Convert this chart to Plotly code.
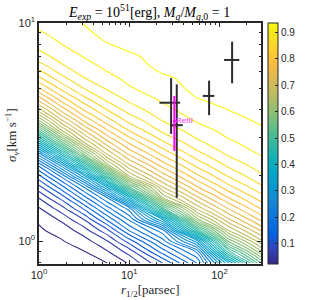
import plotly.graph_objects as go

# ---- contour field (log10 grid nodes) ----
log_r_nodes = [0.0, 0.25, 0.5, 0.75, 1.0, 1.375, 1.75, 2.1, 2.46]
log_sigma_nodes = [-0.10, -0.05, 0.00, 0.05, 0.10, 0.15, 0.20, 0.25, 0.30, 0.35, 0.40,
                   0.45, 0.50, 0.55, 0.60, 0.65, 0.70, 0.75, 0.80, 0.85, 0.90, 0.95, 1.00]
z_rows = [
    [0.0240, 0.0250, 0.0268, 0.0295, 0.0524, 0.1109, 0.1908, 0.3679, 0.5510],
    [0.0250, 0.0265, 0.0288, 0.0466, 0.0770, 0.1589, 0.2324, 0.4786, 0.6240],
    [0.0260, 0.0285, 0.0415, 0.0679, 0.1200, 0.2030, 0.3210, 0.5740, 0.6850],
    [0.0275, 0.0369, 0.0614, 0.1039, 0.1720, 0.2454, 0.4780, 0.6511, 0.7336],
    [0.0326, 0.0544, 0.0911, 0.1531, 0.2144, 0.3549, 0.6040, 0.7073, 0.7760],
    [0.0481, 0.0810, 0.1342, 0.2002, 0.2598, 0.5082, 0.6765, 0.7519, 0.8120],
    [0.0717, 0.1182, 0.1830, 0.2485, 0.3870, 0.6332, 0.7266, 0.7908, 0.8415],
    [0.1050, 0.1641, 0.2331, 0.3541, 0.5350, 0.6936, 0.7693, 0.8250, 0.8667],
    [0.1456, 0.2170, 0.3264, 0.4900, 0.6550, 0.7408, 0.8057, 0.8527, 0.8870],
    [0.1974, 0.3027, 0.4519, 0.6231, 0.7091, 0.7807, 0.8373, 0.8759, 0.9010],
    [0.2820, 0.4196, 0.5773, 0.6905, 0.7544, 0.8164, 0.8635, 0.8936, 0.9120],
    [0.3910, 0.5364, 0.6675, 0.7399, 0.7920, 0.8460, 0.8842, 0.9065, 0.9188],
    [0.5000, 0.6393, 0.7229, 0.7817, 0.8269, 0.8717, 0.8992, 0.9153, 0.9256],
    [0.6050, 0.7035, 0.7705, 0.8188, 0.8548, 0.8902, 0.9115, 0.9226, 0.9324],
    [0.6800, 0.7559, 0.8101, 0.8488, 0.8780, 0.9036, 0.9202, 0.9299, 0.9335],
    [0.7385, 0.7998, 0.8425, 0.8745, 0.8946, 0.9137, 0.9293, 0.9350, 0.9340],
    [0.7880, 0.8358, 0.8706, 0.8921, 0.9080, 0.9207, 0.9350, 0.9350, 0.9345],
    [0.8280, 0.8650, 0.8900, 0.9046, 0.9154, 0.9277, 0.9350, 0.9350, 0.9350],
    [0.8590, 0.8866, 0.9015, 0.9141, 0.9217, 0.9349, 0.9350, 0.9350, 0.9350],
    [0.8830, 0.8988, 0.9118, 0.9213, 0.9280, 0.9350, 0.9350, 0.9350, 0.9350],
    [0.8965, 0.9095, 0.9188, 0.9288, 0.9338, 0.9350, 0.9350, 0.9350, 0.9350],
    [0.9065, 0.9172, 0.9257, 0.9350, 0.9345, 0.9350, 0.9350, 0.9350, 0.9350],
    [0.9160, 0.9250, 0.9305, 0.9350, 0.9350, 0.9350, 0.9350, 0.9350, 0.9350],
]
level_start, level_end, level_step = 0.03, 0.93, 0.02
z_min, z_max = 0.024, 0.935

# ---- observed galaxies ----
obs_r = [29.1, 33.6, 76.7, 138.0]
obs_r_plus = [7.5, 5.6, 11.1, 28.0]
obs_r_minus = [7.5, 4.8, 11.4, 25.5]
obs_sigma = [4.31, 3.40, 4.63, 6.77]
obs_sigma_plus = [1.28, 1.83, 0.81, 1.44]
obs_sigma_minus = [1.21, 1.82, 0.85, 1.48]

ret_name = ["RetII"]
ret_r = [31.6]
ret_r_plus = [2.5]
ret_r_minus = [1.2]
ret_sigma = [3.55]
ret_sigma_plus = [1.08]
ret_sigma_minus = [0.96]

x_tick_vals = [1, 10, 100]
x_tick_text = ["10<sup>0</sup>", "10<sup>1</sup>", "10<sup>2</sup>"]
y_tick_vals = [1, 10]
y_tick_text = ["10<sup>0</sup>", "10<sup>1</sup>"]
cbar_ticks = [0.1, 0.2, 0.3, 0.4, 0.5, 0.6, 0.7, 0.8, 0.9]

parula = [
    [0/63, "rgb(53,42,135)"], [4/63, "rgb(50,67,186)"], [8/63, "rgb(3,99,225)"],
    [12/63, "rgb(13,117,220)"], [16/63, "rgb(20,133,212)"], [20/63, "rgb(9,152,209)"],
    [24/63, "rgb(6,167,198)"], [28/63, "rgb(21,177,180)"], [32/63, "rgb(56,185,158)"],
    [36/63, "rgb(101,190,134)"], [40/63, "rgb(146,191,115)"], [44/63, "rgb(183,189,100)"],
    [48/63, "rgb(217,186,86)"], [52/63, "rgb(248,186,68)"], [56/63, "rgb(252,206,46)"],
    [60/63, "rgb(245,228,29)"], [63/63, "rgb(249,251,14)"],
]

AX = "#262626"
fig = go.Figure()

fig.add_trace(go.Contour(
    x=[10 ** v for v in log_r_nodes],
    y=[10 ** v for v in log_sigma_nodes],
    z=z_rows,
    autocontour=False,
    contours=dict(start=level_start, end=level_end, size=level_step, coloring="lines"),
    line=dict(width=1.1, smoothing=1.0),
    colorscale=parula, zmin=z_min, zmax=z_max,
    showscale=False, hoverinfo="skip",
))

# colorbar carrier
fig.add_trace(go.Scatter(
    x=[None], y=[None], mode="markers",
    marker=dict(color=[0.5], colorscale=parula, cmin=z_min, cmax=z_max, showscale=True,
                colorbar=dict(x=1.0315, xanchor="left", xpad=0, y=0.5, yanchor="middle",
                              ypad=0, len=1.0, lenmode="fraction", thickness=10,
                              thicknessmode="pixels", outlinewidth=1, outlinecolor=AX,
                              tickvals=cbar_ticks, ticks="inside", ticklen=3,
                              tickcolor=AX, tickfont=dict(size=10, color=AX,
                                                          family="Liberation Sans"))),
    showlegend=False, hoverinfo="skip",
))

fig.add_trace(go.Scatter(
    x=obs_r, y=obs_sigma, mode="markers",
    marker=dict(size=1, color="rgba(0,0,0,0)"),
    error_x=dict(type="data", symmetric=False, array=obs_r_plus, arrayminus=obs_r_minus,
                 width=0, thickness=2, color="#2b2b2b"),
    error_y=dict(type="data", symmetric=False, array=obs_sigma_plus,
                 arrayminus=obs_sigma_minus, width=0, thickness=2, color="#2b2b2b"),
    showlegend=False, hoverinfo="skip",
))

fig.add_trace(go.Scatter(
    x=ret_r, y=ret_sigma, mode="markers+text", text=ret_name,
    textposition="middle right",
    textfont=dict(size=8, color="#ff33ff", family="Liberation Sans"),
    marker=dict(size=1, color="rgba(0,0,0,0)"),
    error_x=dict(type="data", symmetric=False, array=ret_r_plus, arrayminus=ret_r_minus,
                 width=0, thickness=1.5, color="#ff00ff"),
    error_y=dict(type="data", symmetric=False, array=ret_sigma_plus,
                 arrayminus=ret_sigma_minus, width=0, thickness=2, color="#ff00ff"),
    showlegend=False, hoverinfo="skip",
))

axis_common = dict(
    showgrid=False, zeroline=False, showline=True, linecolor=AX, linewidth=1.5,
    mirror="ticks", ticks="inside", ticklen=4, tickwidth=1, tickcolor=AX,
    tickfont=dict(size=11, color=AX, family="Liberation Sans"),
)
x_minor = [m * d for d in (1, 10, 100) for m in range(2, 10) if m * d < 300]
y_minor = [0.8, 0.9] + list(range(2, 10))

fig.update_layout(
    width=317, height=300,
    margin=dict(l=39, r=56, t=23, b=36),
    paper_bgcolor="white", plot_bgcolor="white",
    showlegend=False,
    xaxis=dict(type="log", range=[0, 2.46], tickmode="array", tickvals=x_tick_vals,
               ticktext=x_tick_text,
               minor=dict(tickmode="array", tickvals=x_minor, ticks="inside", ticklen=2.5,
                          tickcolor=AX),
               **axis_common),
    yaxis=dict(type="log", range=[-0.105, 1.0], tickmode="array", tickvals=y_tick_vals,
               ticktext=y_tick_text,
               minor=dict(tickmode="array", tickvals=y_minor, ticks="inside", ticklen=2.5,
                          tickcolor=AX),
               **axis_common),
    annotations=[
        dict(text="<i>E<sub>exp</sub></i> = 10<sup>51</sup>[erg], <i>M<sub>g</sub></i>/<i>M</i><sub><i>g</i>,0</sub> = 1",
             xref="paper", yref="paper", x=0.495, y=1.046, showarrow=False,
             xanchor="center", yanchor="middle",
             font=dict(size=14, color="black", family="Liberation Serif")),
        dict(text="<i>r</i><sub>1/2</sub>[parsec]", xref="paper", yref="paper",
             x=0.5, y=-0.108, showarrow=False, xanchor="center", yanchor="middle",
             font=dict(size=13, color=AX, family="Liberation Serif")),
        dict(text="<i>σ<sub>v</sub></i>[km s<sup>−1</sup>]", xref="paper", yref="paper",
             x=-0.122, y=0.535, showarrow=False, textangle=-90,
             xanchor="center", yanchor="middle",
             font=dict(size=13, color=AX, family="Liberation Serif")),
    ],
)

fig.write_html("out.html", config={"displayModeBar": False},
               post_script="document.body.style.margin='0px';")
